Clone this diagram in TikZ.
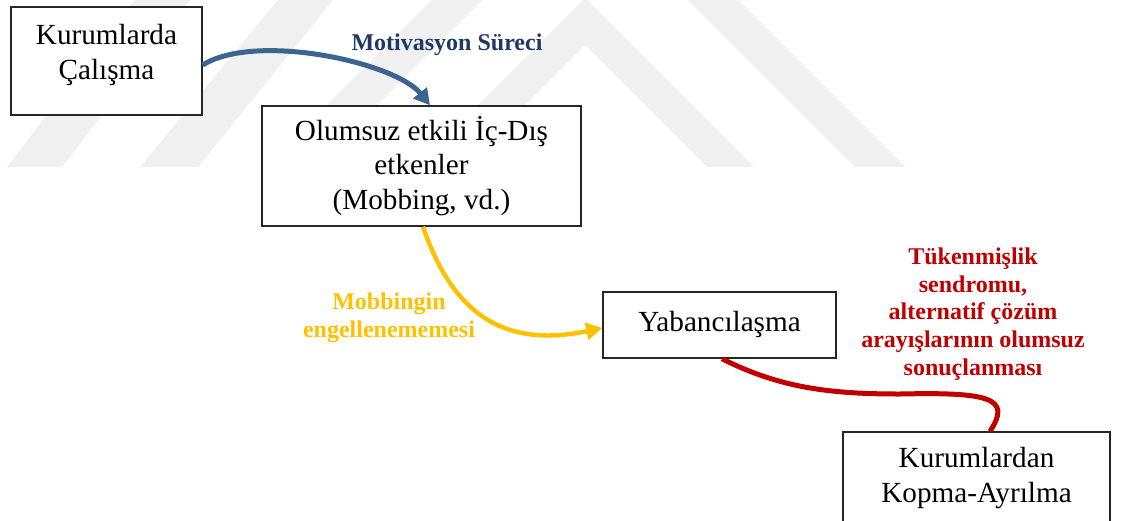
\documentclass[tikz,border=0pt]{standalone}
\usepackage{fontspec}
\setmainfont{Liberation Serif}
\usetikzlibrary{arrows.meta}
\definecolor{markgray}{HTML}{F0F0F0}
\definecolor{flowblue}{HTML}{3D6491}
\definecolor{textblue}{HTML}{1F3864}
\definecolor{amber}{HTML}{FFC000}
\definecolor{deepred}{HTML}{C00000}
\begin{document}
\begin{tikzpicture}[x=0.5pt,y=-0.5pt,
  frame/.style={draw=black!85, line width=0.75pt, fill=white, inner sep=0pt},
  boxtext/.style={align=center, inner sep=0pt, font=\fontsize{14.6}{17.2}\selectfont},
  caption/.style={align=center, inner sep=0pt, font=\bfseries\fontsize{12}{13.8}\selectfont},
  flow/.style={line width=2.5pt},
  band/.style={fill=markgray, draw=none}]
\useasboundingbox (0,0) rectangle (1122,520);

% faint background emblem
\fill[band] (7,167) -- (62,167) -- (190,0) -- (135,0) -- cycle;
\fill[band] (140,167) -- (198,167) -- (333,0) -- (278,0) -- cycle;
\fill[band] (265,167) -- (315,167) -- (482,0) -- (432,0) -- cycle;
\fill[band] (855,167) -- (905,167) -- (738,0) -- (688,0) -- cycle;
\fill[band] (416,167) -- (463,167) -- (585,45) -- (707,167) -- (754,167)
  -- (587,0) -- (583,0) -- cycle;

% boxes
\node[frame, minimum width=95.5pt, minimum height=54pt] (b1) at (106.5,61) {};
\node[boxtext] (t1) at (106.5,55) {Kurumlarda\\Çalışma};

\node[frame, minimum width=159.5pt, minimum height=60pt] (b2) at (421.5,166) {};
\node[boxtext] (t2) at (421.5,166) {Olumsuz etkili İç-Dış\\etkenler\\(Mobbing, vd.)};

\node[frame, minimum width=116.5pt, minimum height=33pt] (b3) at (719.5,325) {};
\node[boxtext] (t3) at (719.5,324) {Yabancılaşma};

\node[frame, minimum width=133.5pt, minimum height=54pt] (b4) at (976.5,486) {};
\node[boxtext] (t4) at (976.5,478) {Kurumlardan\\Kopma-Ayrılma};

% connector captions
\node[caption, text=textblue] (c1) at (447,45) {Motivasyon Süreci};
\node[caption, text=amber] (c2) at (389,318) {Mobbingin\\engellenememesi};
\node[caption, text=deepred] (c3) at (973,314)
  {Tükenmişlik\\sendromu,\\alternatif çözüm\\arayışlarının olumsuz\\sonuçlanması};

% connectors
\draw[flow, draw=flowblue, -{Triangle[length=8pt,width=8.5pt]}]
  ([yshift=-2pt]b1.east) .. controls (255,32) and (395,62) .. ([xshift=4.25pt]b2.north);
\draw[flow, line width=2.2pt, draw=amber, -{Triangle[length=8pt,width=8.5pt]}]
  ([xshift=0.75pt]b2.south) .. controls (458,330) and (520,345) .. ([yshift=-1.5pt]b3.west);
\draw[flow, draw=deepred]
  ([xshift=1.25pt]b3.south) .. controls (780,388) and (830,394) .. (900,394)
  .. controls (990,392) and (1012,398) .. ([xshift=6.75pt]b4.north);
\end{tikzpicture}
\end{document}
